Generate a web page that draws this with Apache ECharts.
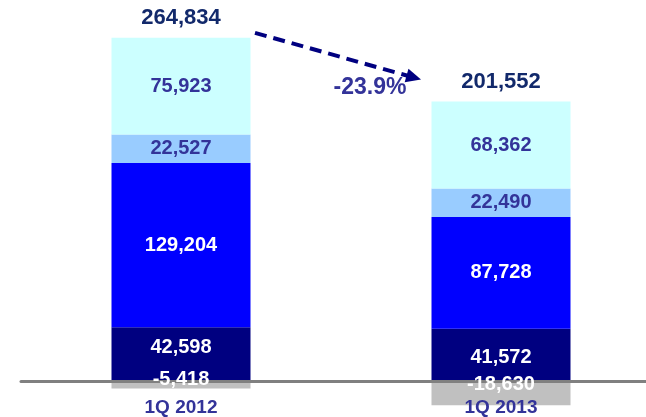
<!DOCTYPE html>
<html>
<head>
<meta charset="utf-8">
<script src="https://cdn.jsdelivr.net/npm/echarts@6/dist/echarts.min.js"></script>
<style>
  html, body { margin: 0; padding: 0; background: #fff; }
  #main { width: 646px; height: 417px; }
</style>
</head>
<body>
<div id="main"></div>
<script>
const categories = ['1Q 2012', '1Q 2013'];
const navyValues = [42598, 41572];
const blueValues = [129204, 87728];
const lightBlueValues = [22527, 22490];
const cyanValues = [75923, 68362];
const negativeValues = [-5418, -18630];
const totals = [264834, 201552];
const changeLabel = '-23.9%';

// label nudges (px) for the crowded bottom segments
const navyLabelShift = [-7, 2];
const negLabelShift = [-5, -9];

const fmt = v => v.toLocaleString('en-US');
const font = 'Liberation Sans, Arial, sans-serif';

// top of the positive stack, used to hang the total label
const stackTops = categories.map((c, i) =>
  navyValues[i] + blueValues[i] + lightBlueValues[i] + cyanValues[i]);

function valueLabel(color) {
  return {
    show: true,
    position: 'inside',
    color: color,
    fontFamily: font,
    fontWeight: 'bold',
    fontSize: 20,
    formatter: p => fmt(p.value)
  };
}

function segment(name, values, color, labelColor, shifts) {
  return {
    name: name,
    type: 'bar',
    stack: 'q',
    barWidth: 139,
    clip: false,
    z: 2,
    data: values.map((v, i) => ({
      value: v,
      label: shifts ? { offset: [0, shifts[i]] } : undefined
    })),
    itemStyle: { color: color },
    label: labelColor ? valueLabel(labelColor) : { show: false }
  };
}

var chart = echarts.init(document.getElementById('main'));

// negative labels sit over the zero line, so they get their own see-through series
let negLabels = {
  name: 'Negative labels',
  type: 'bar',
  barWidth: 139,
  barGap: '-100%',
  clip: false,
  z: 5,
  silent: true,
  data: negativeValues.map((v, i) => ({ value: v, label: { offset: [0, negLabelShift[i]] } })),
  itemStyle: { color: 'rgba(0,0,0,0)' },
  label: valueLabel('#ffffff')
};

let option = {
  animation: false,
  // grid ends at zero; the negative bars hang below it unclipped
  grid: { left: 21, top: 0, width: 640, height: 381.5, outerBoundsMode: 'none' },
  xAxis: {
    type: 'category',
    data: categories,
    z: 3,
    axisLine: { lineStyle: { color: '#808080', width: 3 } },
    axisTick: { show: false },
    axisLabel: {
      color: '#333399',
      fontFamily: font,
      fontWeight: 'bold',
      fontSize: 19,
      margin: 17
    }
  },
  yAxis: {
    type: 'value',
    min: 0,
    max: 300000,
    show: false
  },
  series: [
    segment('Navy', navyValues, '#000080', '#ffffff', navyLabelShift),
    segment('Blue', blueValues, '#0000ff', '#ffffff'),
    segment('Light blue', lightBlueValues, '#99ccff', '#333399'),
    segment('Cyan', cyanValues, '#ccffff', '#333399'),
    segment('Negative', negativeValues, '#c0c0c0', null),
    {
      name: 'Total',
      type: 'bar',
      barWidth: 139,
      barGap: '-100%',
      z: 1,
      silent: true,
      data: stackTops,
      itemStyle: { color: 'rgba(0,0,0,0)' },
      label: {
        show: true,
        position: 'top',
        distance: 9,
        color: '#12296b',
        fontFamily: font,
        fontWeight: 'bold',
        fontSize: 22,
        formatter: p => fmt(totals[p.dataIndex])
      }
    },
    negLabels
  ]
};
chart.setOption(option);

// dashed arrow between the two bar tops
const p0 = chart.convertToPixel({ xAxisIndex: 0, yAxisIndex: 0 }, [0, stackTops[0]]);
const p1 = chart.convertToPixel({ xAxisIndex: 0, yAxisIndex: 0 }, [1, stackTops[1]]);
const start = [p0[0] + 74, p0[1] - 5];
const tip = [p1[0] - 80, p1[1] - 22];
const dx = tip[0] - start[0], dy = tip[1] - start[1];
const len = Math.sqrt(dx * dx + dy * dy);
const ux = dx / len, uy = dy / len;
const headLen = 15, headHalf = 7;
const base = [tip[0] - ux * headLen, tip[1] - uy * headLen];

chart.setOption({
  graphic: [
    {
      type: 'line',
      shape: { x1: start[0], y1: start[1], x2: base[0] + ux * 2, y2: base[1] + uy * 2 },
      style: { stroke: '#000080', lineWidth: 4, lineDash: [12, 7] },
      z: 20
    },
    {
      type: 'polygon',
      shape: {
        points: [
          tip,
          [base[0] - uy * headHalf, base[1] + ux * headHalf],
          [base[0] + uy * headHalf, base[1] - ux * headHalf]
        ]
      },
      style: { fill: '#000080' },
      z: 20
    },
    {
      type: 'text',
      x: (start[0] + tip[0]) / 2 + 32,
      y: (start[1] + tip[1]) / 2 + 31,
      style: {
        text: changeLabel,
        fill: '#333399',
        font: 'bold 23px ' + font,
        align: 'center',
        verticalAlign: 'middle'
      },
      z: 20
    }
  ]
});
</script>
</body>
</html>
